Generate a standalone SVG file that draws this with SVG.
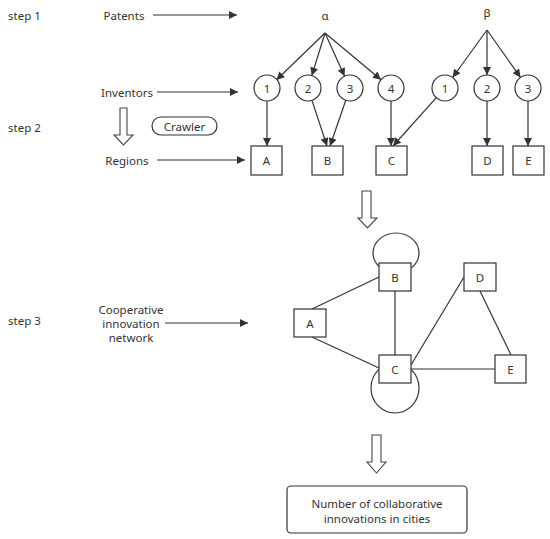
<svg xmlns="http://www.w3.org/2000/svg" width="550" height="539" viewBox="0 0 550 539">
<style>
text{font-family:"Noto Sans","Open Sans","Liberation Sans",sans-serif;fill:#333;font-size:11.5px;text-anchor:middle;dominant-baseline:central}
.lbl{text-anchor:start}
.ln{stroke:#333;stroke-width:1.2;fill:none}
.arr{stroke:#333;stroke-width:1.2;fill:none;marker-end:url(#ah)}
.box{fill:#fff;stroke:#333;stroke-width:1.2}
.hol{fill:#fff;stroke:#444;stroke-width:1.1}
</style>
<defs>
<marker id="ah" viewBox="0 0 10 10" refX="10" refY="5" markerWidth="10" markerHeight="8" markerUnits="userSpaceOnUse" orient="auto">
<path d="M0,0 L10,5 L0,10 z" fill="#333"/>
</marker>
</defs>
<rect width="550" height="539" fill="#fff"/>
<g id="labels">
<text class="lbl" x="8" y="15">step 1</text>
<text class="lbl" x="8" y="127">step 2</text>
<text class="lbl" x="8" y="320">step 3</text>
<text x="124" y="15">Patents</text>
<text x="127" y="92">Inventors</text>
<text x="127" y="160">Regions</text>
<text x="131" y="309">Cooperative</text>
<text x="131" y="323">innovation</text>
<text x="131" y="337">network</text>
<text x="325" y="15">α</text>
<text x="487" y="12">β</text>
</g>
<g id="connectors">
<line class="arr" x1="153" y1="15" x2="237" y2="15"/>
<line class="arr" x1="157" y1="92" x2="238" y2="92"/>
<line class="arr" x1="157" y1="160" x2="245" y2="160"/>
<line class="arr" x1="165" y1="323" x2="248" y2="323"/>
<line class="arr" x1="325" y1="33" x2="276.4" y2="80"/>
<line class="arr" x1="325" y1="33" x2="311.8" y2="75.6"/>
<line class="arr" x1="325" y1="33" x2="344.6" y2="76.2"/>
<line class="arr" x1="325" y1="33" x2="381" y2="79.7"/>
<line class="arr" x1="487" y1="30" x2="452.6" y2="77.5"/>
<line class="arr" x1="487" y1="30" x2="487" y2="75"/>
<line class="arr" x1="487" y1="30" x2="520.5" y2="77.4"/>
<line class="arr" x1="267" y1="101" x2="267" y2="146"/>
<line class="arr" x1="312" y1="100.4" x2="327" y2="146"/>
<line class="arr" x1="345.8" y1="100.3" x2="330" y2="146"/>
<line class="arr" x1="391" y1="101" x2="391" y2="146"/>
<line class="arr" x1="436.3" y1="97.7" x2="393" y2="146"/>
<line class="arr" x1="487" y1="101" x2="487" y2="146"/>
<line class="arr" x1="528" y1="101" x2="528" y2="146"/>
<ellipse class="ln" cx="396" cy="253" rx="23" ry="20"/>
<ellipse class="ln" cx="395" cy="388" rx="24" ry="25"/>
<line class="ln" x1="312" y1="309" x2="379" y2="277"/>
<line class="ln" x1="312" y1="337" x2="379" y2="368"/>
<line class="ln" x1="395" y1="291" x2="395" y2="355"/>
<line class="ln" x1="411" y1="365" x2="464" y2="277"/>
<line class="ln" x1="480" y1="291" x2="511" y2="355"/>
<line class="ln" x1="411" y1="369" x2="495" y2="369"/>
<polygon class="hol" points="120,108 127,108 127,135 133,135 123.5,145 114,135 120,135"/>
<polygon class="hol" points="362,191 371,191 371,218 377,218 367.5,228 358,218 362,218"/>
<polygon class="hol" points="372,435 381,435 381,462 386,462 376.5,473 367,462 372,462"/>
</g>
<g id="crawler"><rect class="box" x="152" y="117" width="65" height="18" rx="9"/><text x="184.5" y="126">Crawler</text></g>
<g id="a1"><circle class="box" cx="267" cy="88" r="13"/><text x="267" y="88">1</text></g>
<g id="a2"><circle class="box" cx="308" cy="88" r="13"/><text x="308" y="88">2</text></g>
<g id="a3"><circle class="box" cx="350" cy="88" r="13"/><text x="350" y="88">3</text></g>
<g id="a4"><circle class="box" cx="391" cy="88" r="13"/><text x="391" y="88">4</text></g>
<g id="b1"><circle class="box" cx="445" cy="88" r="13"/><text x="445" y="88">1</text></g>
<g id="b2"><circle class="box" cx="487" cy="88" r="13"/><text x="487" y="88">2</text></g>
<g id="b3"><circle class="box" cx="528" cy="88" r="13"/><text x="528" y="88">3</text></g>
<g id="rA"><rect class="box" x="251" y="146" width="31" height="29"/><text x="266.5" y="160.5">A</text></g>
<g id="rB"><rect class="box" x="312" y="146" width="31" height="29"/><text x="327.5" y="160.5">B</text></g>
<g id="rC"><rect class="box" x="376" y="146" width="31" height="29"/><text x="391.5" y="160.5">C</text></g>
<g id="rD"><rect class="box" x="472" y="146" width="31" height="29"/><text x="487.5" y="160.5">D</text></g>
<g id="rE"><rect class="box" x="513" y="146" width="31" height="29"/><text x="528.5" y="160.5">E</text></g>
<g id="nA"><rect class="box" x="294" y="309" width="32" height="28"/><text x="310" y="323">A</text></g>
<g id="nB"><rect class="box" x="379" y="263" width="32" height="28"/><text x="395" y="277">B</text></g>
<g id="nC"><rect class="box" x="379" y="355" width="32" height="28"/><text x="395" y="369">C</text></g>
<g id="nD"><rect class="box" x="464" y="263" width="32" height="28"/><text x="480" y="277">D</text></g>
<g id="nE"><rect class="box" x="495" y="355" width="31" height="28"/><text x="510.5" y="369">E</text></g>
<g id="result"><rect class="box" x="287" y="486" width="180" height="47" rx="4"/><text x="377" y="503">Number of collaborative</text><text x="377" y="518">innovations in cities</text></g>
</svg>
